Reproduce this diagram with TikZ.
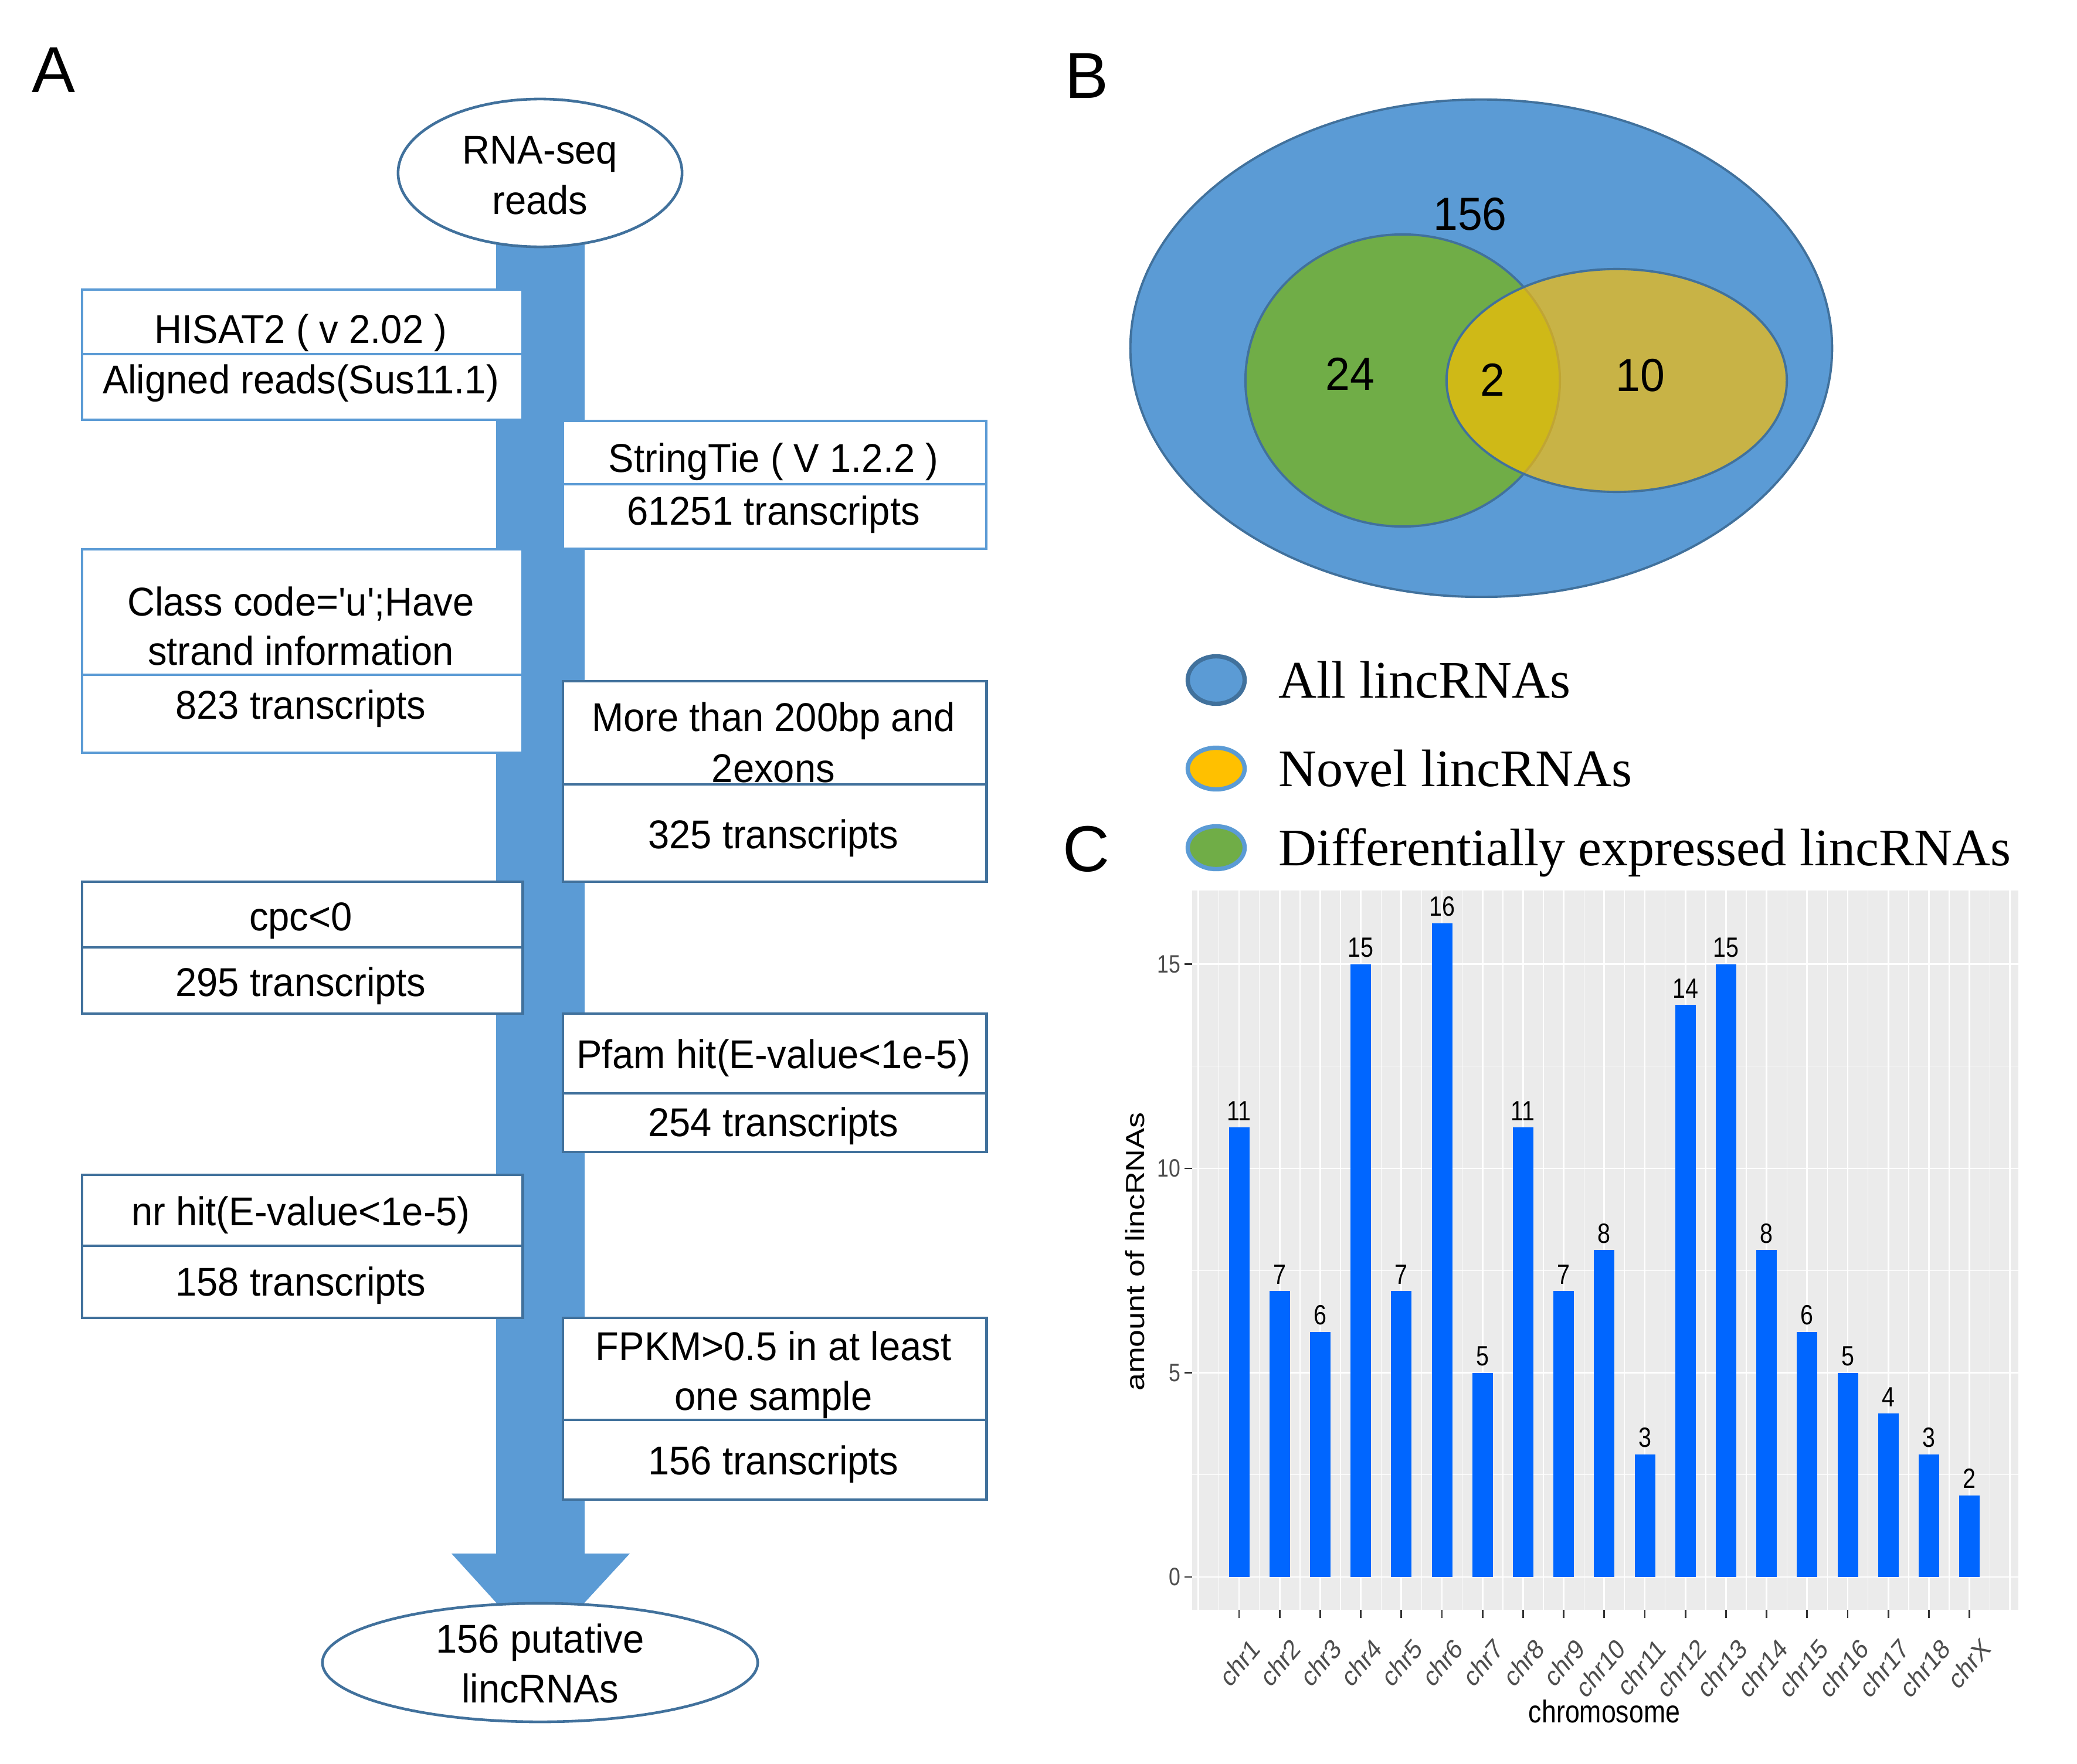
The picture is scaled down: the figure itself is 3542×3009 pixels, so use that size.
\documentclass[tikz,border=0pt]{standalone}
\usepackage{fontspec}
\setmainfont{Liberation Sans}
\newfontfamily\legendserif{Liberation Serif}
\usetikzlibrary{shapes.geometric,calc}
\definecolor{barblue}{HTML}{5B9BD5}
\definecolor{edgeblue}{HTML}{41719C}
\definecolor{lightedge}{HTML}{5B9BD5}
\definecolor{venngreen}{HTML}{70AD47}
\definecolor{vennyellow}{HTML}{FFC000}
\definecolor{chartbar}{HTML}{0066FF}
\definecolor{panelgray}{HTML}{EBEBEB}
\definecolor{axisgray}{HTML}{333333}
\definecolor{ticktext}{HTML}{4D4D4D}
\begin{document}
\begin{tikzpicture}[x=0.01cm,y=-0.01cm,
  flowtxt/.style={font=\fontsize{19.5pt}{23pt}\selectfont, anchor=base, inner sep=0pt, xscale=0.95},
  boxlight/.style={rectangle, draw=lightedge, line width=1.1pt, fill=white, inner sep=0pt, anchor=north west},
  boxdark/.style={rectangle, draw=edgeblue, line width=1.2pt, fill=white, inner sep=0pt, anchor=north west},
  divlight/.style={draw=lightedge, line width=1.1pt},
  divdark/.style={draw=edgeblue, line width=1.2pt},
  termell/.style={ellipse, draw=edgeblue, line width=1.3pt, fill=white, inner sep=0pt},
  paneltag/.style={font=\fontsize{31.5pt}{36pt}\selectfont, anchor=base, inner sep=0pt},
  venntxt/.style={font=\fontsize{22.5pt}{26pt}\selectfont, anchor=base, inner sep=0pt, xscale=0.95},
  vennset/.style={ellipse, draw=edgeblue, line width=1.1pt, inner sep=0pt},
  legtxt/.style={font=\legendserif\fontsize{25.6pt}{30pt}\selectfont, anchor=base west, inner sep=0pt},
  legdot/.style={ellipse, inner sep=0pt, line width=2.1pt},
  gridmajor/.style={white, line width=0.8pt},
  gridminor/.style={white, line width=0.4pt},
  axistick/.style={axisgray, line width=0.8pt},
  barlbl/.style={font=\fontsize{13.5pt}{16pt}\selectfont, anchor=base, inner sep=0pt, xscale=0.83},
  ytick/.style={font=\fontsize{12.2pt}{14pt}\selectfont, text=ticktext, anchor=east, inner sep=0pt, xscale=0.83},
  xtick/.style={font=\fontsize{13.5pt}{16pt}\selectfont, text=ticktext, anchor=north east, inner sep=0pt, xscale=0.83, rotate=45},
  axtitle/.style={font=\fontsize{15.3pt}{18pt}\selectfont, inner sep=0pt, xscale=0.83},
]
\fill[white] (0,0) rectangle (3542,3009);
\useasboundingbox (0,0) rectangle (3542,3009);

% ---------------- Panel A ----------------
\node[paneltag] (tagA) at (91,158) {A};
\coordinate (rnapos) at (921,295);
\coordinate (finpos) at (921,2836);
% big arrow
\fill[barblue] ($(rnapos)+(-75,0)$) -- ($(rnapos)+(76,0)$) -- ($(finpos)+(76,-186)$)
  -- ($(finpos)+(153,-186)$) -- ($(finpos)+(0,-20)$) -- ($(finpos)+(-151,-186)$)
  -- ($(finpos)+(-75,-186)$) -- cycle;

% boxes
\node[boxlight, minimum width=7.51cm, minimum height=2.22cm] (hisat) at (138,492) {};
\draw[divlight] (138,604) -- (889,604);
\node[boxlight, minimum width=7.22cm, minimum height=2.18cm] (stringtie) at (958,716) {};
\draw[divlight] (958,826) -- (1680,826);
\node[boxlight, minimum width=7.51cm, minimum height=3.47cm] (classc) at (138,935) {};
\draw[divlight] (138,1151) -- (889,1151);
\node[boxdark, minimum width=7.22cm, minimum height=3.42cm] (morethan) at (958,1160) {};
\draw[divdark] (958,1338) -- (1680,1338);
\node[boxdark, minimum width=7.51cm, minimum height=2.25cm] (cpc) at (138,1502) {};
\draw[divdark] (138,1616) -- (889,1616);
\node[boxdark, minimum width=7.22cm, minimum height=2.36cm] (pfam) at (958,1727) {};
\draw[divdark] (958,1865) -- (1680,1865);
\node[boxdark, minimum width=7.51cm, minimum height=2.44cm] (nrhit) at (138,2002) {};
\draw[divdark] (138,2125) -- (889,2125);
\node[boxdark, minimum width=7.22cm, minimum height=3.10cm] (fpkm) at (958,2246) {};
\draw[divdark] (958,2422) -- (1680,2422);

% box texts
\node[flowtxt] (t1a) at (513,585) {HISAT2 ( v 2.02 )};
\node[flowtxt] (t1b) at (513,671) {Aligned reads(Sus11.1)};
\node[flowtxt] (t2a) at (1319,805) {StringTie ( V 1.2.2 )};
\node[flowtxt] (t2b) at (1319,895) {61251 transcripts};
\node[flowtxt] (t3a) at (513,1050) {Class code=\textquotesingle u\textquotesingle;Have};
\node[flowtxt] (t3b) at (513,1134) {strand information};
\node[flowtxt] (t3c) at (513,1226) {823 transcripts};
\node[flowtxt] (t4a) at (1319,1247) {More than 200bp and};
\node[flowtxt] (t4b) at (1319,1334) {2exons};
\node[flowtxt] (t4c) at (1319,1447) {325 transcripts};
\node[flowtxt] (t5a) at (513,1587) {cpc<0};
\node[flowtxt] (t5b) at (513,1699) {295 transcripts};
\node[flowtxt] (t6a) at (1319,1822) {Pfam hit(E-value<1e-5)};
\node[flowtxt] (t6b) at (1319,1938) {254 transcripts};
\node[flowtxt] (t7a) at (513,2090) {nr hit(E-value<1e-5)};
\node[flowtxt] (t7b) at (513,2210) {158 transcripts};
\node[flowtxt] (t8a) at (1319,2320) {FPKM>0.5 in at least};
\node[flowtxt] (t8b) at (1319,2405) {one sample};
\node[flowtxt] (t8c) at (1319,2515) {156 transcripts};

% terminal ellipses
\node[termell, minimum width=4.84cm, minimum height=2.52cm] (rna) at (rnapos) {};
\node[flowtxt] (rnaA) at (921,279) {RNA-seq};
\node[flowtxt] (rnaB) at (921,365) {reads};
\node[termell, minimum width=7.42cm, minimum height=2.02cm] (final) at (finpos) {};
\node[flowtxt] (finA) at (921,2819) {156 putative};
\node[flowtxt] (finB) at (921,2904) {lincRNAs};

% ---------------- Panel B ----------------
\node[paneltag] (tagB) at (1853,168) {B};
\node[vennset, fill=barblue, minimum width=11.96cm, minimum height=8.48cm] (allset) at (2526,594) {};
\node[vennset, fill=venngreen, minimum width=5.36cm, minimum height=4.98cm] (deset) at (2392,649) {};
\node[vennset, fill=vennyellow, fill opacity=0.67, minimum width=5.80cm, minimum height=3.80cm] (novelset) at (2757,649) {};
\node[venntxt] (n156) at (2507,393) {156};
\node[venntxt] (n24) at (2302,665) {24};
\node[venntxt] (n2) at (2545,675) {2};
\node[venntxt] (n10) at (2797,667) {10};

% legend
\node[legdot, fill=barblue, draw=edgeblue, minimum width=0.97cm, minimum height=0.81cm] (legall) at (2074,1160) {};
\node[legtxt] (legallt) at (2180,1190) {All lincRNAs};
\node[legdot, fill=vennyellow, draw=lightedge, minimum width=0.97cm, minimum height=0.71cm] (legnov) at (2074,1311) {};
\node[legtxt] (legnovt) at (2180,1341) {Novel lincRNAs};
\node[legdot, fill=venngreen, draw=lightedge, minimum width=0.97cm, minimum height=0.73cm] (legdif) at (2074,1446) {};
\node[legtxt] (legdift) at (2180,1476) {Differentially expressed lincRNAs};

% ---------------- Panel C ----------------
\node[paneltag] (tagC) at (1852,1486) {C};
\fill[panelgray] (2033,1519) rectangle (3442,2746);
\foreach \v in {2.5,7.5,12.5}
  \draw[gridminor] (2033,{2690-69.7*\v}) -- (3442,{2690-69.7*\v});
\foreach \v in {0,5,10,15}
  \draw[gridmajor] (2033,{2690-69.7*\v}) -- (3442,{2690-69.7*\v});
\foreach \k in {0,...,20}
  \draw[gridminor] ({2043.8+69.2*(\k+0.5)},1519) -- ({2043.8+69.2*(\k+0.5)},2746);
\foreach \k in {0,...,20}
  \draw[gridmajor] ({2043.8+69.2*\k},1519) -- ({2043.8+69.2*\k},2746);
% bars
\foreach \v [count=\i] in {11,7,6,15,7,16,5,11,7,8,3,14,15,8,6,5,4,3,2} {
  \fill[chartbar] ({2113+69.2*(\i-1)-17.5},2690) rectangle ({2113+69.2*(\i-1)+17.5},{2690-69.7*\v});
  \node[barlbl] (val\i) at ({2113+69.2*(\i-1)},{2690-69.7*\v-12}) {\v};
}
% y axis
\foreach \v in {0,5,10,15} {
  \draw[axistick] (2020,{2690-69.7*\v}) -- (2033,{2690-69.7*\v});
  \node[ytick] (yl\v) at (2014,{2690-69.7*\v}) {\v};
}
% x axis
\foreach \c [count=\i] in {chr1,chr2,chr3,chr4,chr5,chr6,chr7,chr8,chr9,chr10,chr11,chr12,chr13,chr14,chr15,chr16,chr17,chr18,chrX} {
  \draw[axistick] ({2113+69.2*(\i-1)},2746) -- ({2113+69.2*(\i-1)},2760);
  \node[xtick] (xl\i) at ({2113+69.2*(\i-1)+18},2790) {\c};
}
\node[axtitle] (xtitle) at (2736,2919) {chromosome};
\node[axtitle, rotate=90] (ytitle) at (1936,2135) {amount of lincRNAs};
\end{tikzpicture}
\end{document}
